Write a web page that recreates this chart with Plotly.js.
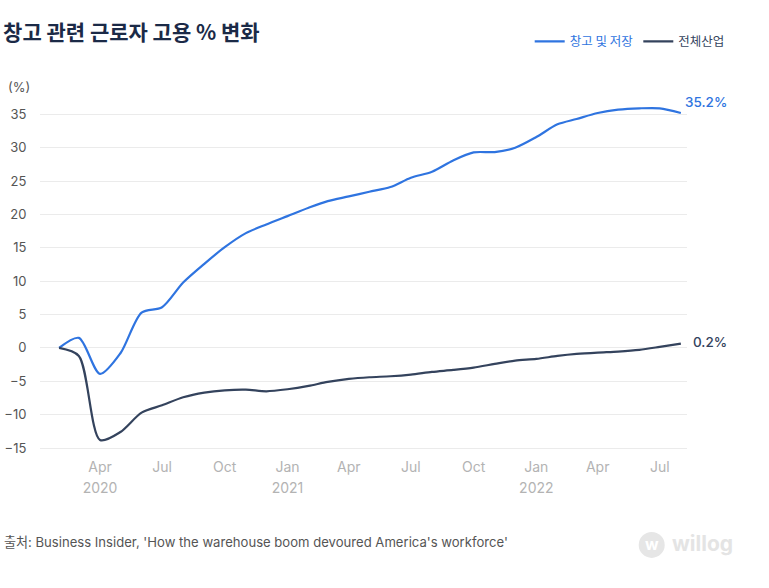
<!DOCTYPE html>
<html>
<head>
<meta charset="utf-8">
<script src="https://cdn.plot.ly/plotly-3.0.1.min.js"></script>
<style>html,body{margin:0;padding:0;background:#fff;}#chart{width:769px;height:588px;}</style>
</head>
<body>
<div id="chart"></div>
<script>
const months = [
  '2020-02-01','2020-03-01','2020-04-01','2020-05-01','2020-06-01','2020-07-01','2020-08-01','2020-09-01','2020-10-01','2020-11-01','2020-12-01',
  '2021-01-01','2021-02-01','2021-03-01','2021-04-01','2021-05-01','2021-06-01','2021-07-01','2021-08-01','2021-09-01','2021-10-01','2021-11-01','2021-12-01',
  '2022-01-01','2022-02-01','2022-03-01','2022-04-01','2022-05-01','2022-06-01','2022-07-01','2022-08-01'
];
const warehouse = [
  0, 1.5, -3.9, -0.8, 5.3, 6.1, 9.8, 12.6, 15.1, 17.2, 18.5,
  19.75, 21.0, 22.0, 22.7, 23.4, 24.1, 25.5, 26.4, 28.1, 29.3, 29.35, 30.0,
  31.6, 33.5, 34.3, 35.2, 35.7, 35.9, 35.9, 35.2
];
const allIndustry = [
  0, -1.2, -13.8, -12.6, -9.7, -8.6, -7.4, -6.7, -6.35, -6.25, -6.5,
  -6.2, -5.7, -5.1, -4.65, -4.4, -4.25, -4.0, -3.6, -3.3, -2.95, -2.4, -1.9,
  -1.65, -1.2, -0.9, -0.7, -0.55, -0.3, 0.15, 0.65
];
const seriesNames = ['창고 및 저장', '전체산업'];
const endLabels = ['35.2%', '0.2%'];
const yTicks = [-15, -10, -5, 0, 5, 10, 15, 20, 25, 30, 35];
const monthTickVals = ['2020-04-01','2020-07-01','2020-10-01','2021-01-01','2021-04-01','2021-07-01','2021-10-01','2022-01-01','2022-04-01','2022-07-01'];
const monthTickText = ['Apr','Jul','Oct','Jan','Apr','Jul','Oct','Jan','Apr','Jul'];
const yearTickVals = ['2020-04-01','2021-01-01','2022-01-01'];
const yearTickText = ['2020','2021','2022'];

const BLUE = '#2f74e0';
const DARK = '#34435d';
const FONT = 'Inter, "Noto Sans CJK KR", "Noto Sans", sans-serif';
const KFONT = '"Noto Sans CJK KR", Inter, sans-serif';
const XRANGE = ['2020-01-04', '2022-08-10'];

const traces = [
  {x: months, y: warehouse, type: 'scatter', mode: 'lines',
   name: '<span style="color:' + BLUE + '">' + seriesNames[0] + '</span>',
   line: {color: BLUE, width: 2.2, shape: 'spline', smoothing: 0.8}, hoverinfo: 'skip'},
  {x: months, y: allIndustry, type: 'scatter', mode: 'lines',
   name: '<span style="color:' + DARK + '">' + seriesNames[1] + '</span>',
   line: {color: DARK, width: 2.2, shape: 'spline', smoothing: 0.8}, hoverinfo: 'skip'},
  {x: [], y: [], xaxis: 'x2', yaxis: 'y', showlegend: false, hoverinfo: 'skip', type: 'scatter'}
];

const lastIdx = months.length - 1;
const layout = {
  width: 769, height: 588,
  margin: {l: 40, r: 82, t: 100.6, b: 138},
  paper_bgcolor: '#ffffff', plot_bgcolor: '#ffffff',
  font: {family: FONT, color: '#555555', size: 13},
  title: {text: '<b>창고 관련 근로자 고용 % 변화</b>', x: 0.004, xanchor: 'left',
          xref: 'container', yref: 'container', y: 1 - 33/588, yanchor: 'middle',
          font: {family: KFONT, size: 21, color: '#1b2a47'}},
  showlegend: true,
  legend: {orientation: 'h', x: 1.066, xanchor: 'right', y: 1.17, yanchor: 'middle',
           font: {family: KFONT, size: 12.5}, bgcolor: 'rgba(0,0,0,0)',
           itemwidth: 30, tracegroupgap: 0},
  xaxis: {type: 'date', range: XRANGE, tickvals: monthTickVals, ticktext: monthTickText,
          showgrid: false, zeroline: false, showline: false,
          ticks: 'outside', ticklen: 4, tickcolor: 'rgba(0,0,0,0)',
          tickfont: {family: FONT, size: 14, color: '#b3b3b3'}, fixedrange: true},
  xaxis2: {type: 'date', range: XRANGE, overlaying: 'x', side: 'bottom', anchor: 'y',
           tickvals: yearTickVals, ticktext: yearTickText,
           showgrid: false, zeroline: false, showline: false,
           ticks: 'outside', ticklen: 4, tickcolor: 'rgba(0,0,0,0)', ticklabelstandoff: 21,
           tickfont: {family: FONT, size: 14, color: '#b3b3b3'}, fixedrange: true},
  yaxis: {range: [-15.3, 37], tickvals: yTicks, ticktext: yTicks.map(v => v < 0 ? '\u2212' + Math.abs(v) : String(v)),
          showgrid: true, gridcolor: '#ebebeb', gridwidth: 1, zeroline: false, showline: false,
          ticks: 'outside', ticklen: 10, tickcolor: 'rgba(0,0,0,0)',
          tickfont: {family: FONT, size: 13, color: '#555555'}, fixedrange: true},
  annotations: [
    {text: '(%)', xref: 'paper', yref: 'paper', x: -0.053, xanchor: 'left', y: (450-87)/349.4, yanchor: 'middle',
     showarrow: false, font: {family: FONT, size: 13, color: '#555555'}},
    {text: endLabels[0], xref: 'paper', yref: 'y', x: (729-40)/647, xanchor: 'right',
     y: warehouse[lastIdx], yanchor: 'middle', yshift: 11, showarrow: false,
     font: {family: FONT, size: 13.5, color: BLUE, weight: 500}},
    {text: endLabels[1], xref: 'paper', yref: 'y', x: (729-40)/647, xanchor: 'right',
     y: allIndustry[lastIdx], yanchor: 'middle', yshift: 2, showarrow: false,
     font: {family: FONT, size: 13.5, color: DARK, weight: 500}},
    {text: "출처: Business Insider, 'How the warehouse boom devoured America's workforce'",
     xref: 'paper', yref: 'paper', x: -0.058, xanchor: 'left', y: (450-541.7)/349.4, yanchor: 'middle',
     showarrow: false, font: {family: FONT, size: 13.1, color: '#555555'}},
    {text: '<b>w</b>', xref: 'paper', yref: 'paper', x: (651.7-40)/647, xanchor: 'center',
     y: (450-544)/349.4, yanchor: 'middle', showarrow: false, font: {family: FONT, size: 16, color: '#ffffff'}},
    {text: '<b>willog</b>', xref: 'paper', yref: 'paper', x: (670-40)/647, xanchor: 'left',
     y: (450-544)/349.4, yanchor: 'middle', showarrow: false, font: {family: FONT, size: 21, color: '#e4e4e4'}}
  ],
  shapes: [
    {type: 'circle', xref: 'paper', yref: 'paper', layer: 'below',
     x0: (651.7-13-40)/647, x1: (651.7+13-40)/647,
     y0: (450-545-13)/349.4, y1: (450-545+13)/349.4,
     fillcolor: '#e6e6e6', line: {width: 0}}
  ]
};

Plotly.newPlot('chart', traces, layout, {displayModeBar: false, staticPlot: true});
</script>
</body>
</html>
